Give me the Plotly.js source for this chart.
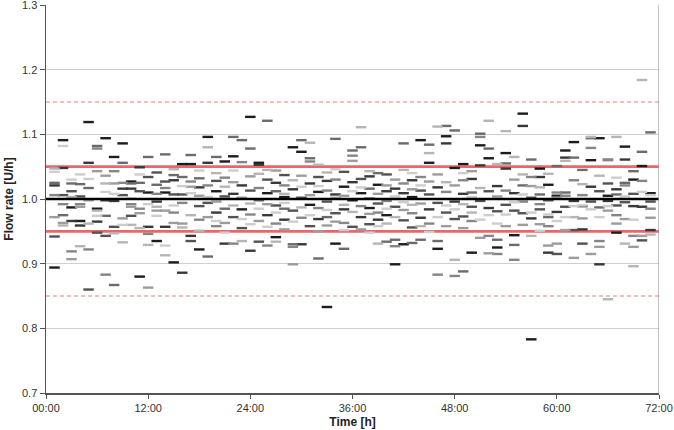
<!DOCTYPE html>
<html>
<head>
<meta charset="utf-8">
<script src="https://cdn.plot.ly/plotly-3.0.1.min.js"></script>
<style>html,body{margin:0;padding:0;background:#fff;}#chart{width:674px;height:430px;}</style>
</head>
<body>
<div id="chart"></div>
<script>
// Hours 1..71 (one dash per run per hour)
const hours = Array.from({length: 71}, (_, i) => i + 1);

// Eight runs, darkest to lightest shade (flow rate, U/h)
const runA = [0.894,1.091,0.987,0.966,1.119,0.985,1.094,1.065,1.086,1.027,0.880,1.010,0.935,1.010,0.902,1.054,1.054,0.922,1.096,1.012,1.058,1.066,0.984,1.127,1.056,1.009,0.941,1.003,1.080,1.073,0.991,1.011,0.833,0.931,1.019,0.998,1.009,0.986,1.022,0.975,0.899,0.930,1.003,1.091,1.056,0.923,1.097,1.048,1.054,0.917,1.083,1.063,0.925,1.071,0.944,1.132,0.783,1.047,1.022,1.005,1.075,1.088,0.989,1.060,1.094,1.005,0.948,1.081,1.030,1.051,1.009];
const runB = [1.021,1.048,0.966,0.959,1.056,0.965,0.998,0.997,1.016,1.016,1.049,0.957,0.996,0.957,1.029,0.886,0.943,1.018,1.056,0.979,0.931,1.008,1.021,0.920,1.053,0.975,1.025,0.968,1.015,0.930,1.024,0.969,1.028,1.007,0.984,1.026,0.972,1.035,0.968,1.012,1.016,1.009,1.029,0.971,0.984,1.018,1.086,0.996,1.008,1.031,1.052,0.986,1.020,1.047,1.009,1.113,0.970,1.034,0.917,0.980,1.064,0.997,0.953,1.019,0.899,0.997,1.015,1.061,0.989,0.988,0.952];
const runC = [0.942,1.006,1.012,1.004,0.860,0.948,0.943,0.957,1.006,0.974,1.012,1.034,1.041,1.027,1.007,1.007,0.935,0.989,0.994,1.028,1.004,0.972,0.955,1.013,0.934,1.030,0.990,1.037,0.982,1.002,0.958,1.034,0.996,0.978,1.042,0.957,1.031,0.961,0.993,1.038,0.988,0.967,0.956,1.013,1.007,0.994,0.979,0.969,0.973,0.988,0.997,1.012,0.981,0.991,0.982,0.978,1.002,0.984,0.998,0.915,0.988,0.952,0.931,0.996,1.012,1.024,0.990,0.995,1.008,0.936,0.996];
const runD = [1.025,0.975,1.024,1.023,1.017,1.082,0.974,0.867,1.056,1.024,1.025,1.065,1.022,1.069,1.037,1.034,1.068,1.032,0.911,1.065,0.985,1.096,1.091,1.078,0.998,1.121,1.012,0.985,0.930,1.091,1.063,0.908,0.972,1.093,0.923,1.075,1.080,1.016,1.040,0.934,0.937,1.086,0.932,0.937,1.084,0.935,1.113,1.106,0.888,1.010,1.101,1.078,0.937,1.055,0.929,1.021,1.061,1.007,0.972,1.051,1.010,1.064,1.045,1.094,0.987,1.061,1.007,1.025,1.043,1.073,1.103];
const runE = [1.006,0.992,0.919,0.992,0.922,1.078,0.883,1.043,1.025,0.992,0.985,0.946,1.008,1.017,0.979,0.994,1.027,0.968,1.021,0.958,1.033,0.931,1.057,0.976,1.017,0.928,0.962,1.021,0.926,0.971,1.058,0.986,1.013,1.030,0.963,1.067,0.989,1.001,0.979,0.997,0.927,1.024,0.978,1.034,0.962,0.883,1.011,0.881,1.029,0.966,1.096,0.943,0.915,1.013,0.906,0.996,1.034,0.992,0.958,1.010,1.005,1.029,1.006,1.079,0.935,1.060,0.975,1.021,0.943,1.028,0.985];
const runF = [0.972,0.963,0.907,0.988,0.998,1.043,1.036,1.024,0.970,0.988,0.978,0.863,0.982,0.982,0.963,0.962,1.019,1.005,0.972,0.996,0.963,1.026,1.002,1.035,0.966,0.992,1.044,0.953,0.899,1.036,1.006,0.950,0.959,0.965,1.005,1.059,0.953,0.977,1.008,1.021,1.030,0.983,1.015,0.993,1.027,1.038,0.958,1.021,0.955,1.043,0.940,0.916,1.004,0.958,1.030,0.960,1.020,0.961,0.928,0.931,0.952,0.909,0.970,0.915,0.926,0.982,0.962,0.969,0.926,0.943,0.971];
const runG = [1.047,0.959,1.003,0.927,0.962,0.982,1.024,0.947,0.933,0.960,0.955,0.929,0.988,0.913,1.046,0.956,0.975,0.951,1.080,1.040,1.019,0.990,0.935,0.993,1.039,1.045,0.934,1.008,1.029,0.987,1.087,1.053,1.041,1.002,0.991,0.980,1.111,1.043,0.931,0.962,0.972,1.045,0.991,0.958,1.071,1.112,1.026,0.906,0.992,0.979,1.017,1.121,1.054,1.105,1.065,1.038,0.943,1.018,1.039,1.002,1.059,0.972,1.023,1.096,1.036,0.845,1.096,0.931,0.896,1.184,0.945];
const runH = [1.042,1.082,1.030,1.038,1.031,0.974,1.011,1.008,0.960,1.001,1.038,0.992,0.974,0.928,0.990,1.020,1.009,1.044,1.003,0.966,0.948,1.044,0.969,0.961,0.985,0.957,0.979,0.994,0.965,1.019,0.975,1.020,0.983,1.046,0.952,1.012,1.018,0.948,0.958,0.985,1.004,0.995,1.040,1.021,0.949,0.972,0.990,0.984,1.040,1.003,0.968,0.975,0.962,0.976,0.995,1.007,0.979,0.951,0.976,0.966,0.972,0.989,0.990,0.984,0.972,0.989,1.033,1.004,0.968,1.011,1.006];

const runs = [runA, runB, runC, runD, runE, runF, runG, runH];
const shades = ['#1c1c1c','#383838','#525252','#6b6b6b','#858585','#9c9c9c','#b5b5b5','#cdcdcd'];

// Reference levels
const target = 1.0;
const innerLimits = [0.95, 1.05];
const outerLimits = [0.85, 1.15];
const xTickVals = [0, 12, 24, 36, 48, 60, 72];
const xTickText = ['00:00','12:00','24:00','36:00','48:00','60:00','72:00'];
const yTickVals = [0.7, 0.8, 0.9, 1.0, 1.1, 1.2, 1.3];
const yTickText = ['0.7','0.8','0.9','1.0','1.1','1.2','1.3'];

const traces = [];
innerLimits.forEach(v => traces.push({x:[0,72], y:[v,v], mode:'lines', line:{color:'#e8676a', width:2.6}, hoverinfo:'skip', showlegend:false}));
outerLimits.forEach(v => traces.push({x:[0,72], y:[v,v], mode:'lines', line:{color:'#f07a7a', width:1.1, dash:'4px,3px'}, hoverinfo:'skip', showlegend:false}));

runs.forEach((r, i) => traces.push({
  x: hours, y: r, mode: 'markers', type: 'scatter', showlegend: false,
  marker: {symbol: 'line-ew', size: 7.5, line: {color: shades[i], width: 2.4}}
}));

traces.push({x:[0,72], y:[target,target], mode:'lines', line:{color:'#000', width:2.6}, hoverinfo:'skip', showlegend:false});

const layout = {
  width: 674, height: 430,
  margin: {l: 46, r: 15, t: 5, b: 37},
  paper_bgcolor: '#fff', plot_bgcolor: '#fff',
  font: {family: 'Liberation Sans, Arial, sans-serif', size: 11, color: '#333'},
  showlegend: false,
  xaxis: {
    range: [0, 72], tickvals: xTickVals, ticktext: xTickText,
    showgrid: false, zeroline: false, ticklabeloverflow: 'allow',
    showline: true, linecolor: '#555', linewidth: 1.5,
    ticks: 'outside', ticklen: 4, tickcolor: '#555',
    title: {text: '<b>Time [h]</b>', font: {size: 12, color: '#222'}, standoff: 5}
  },
  yaxis: {
    range: [0.7, 1.3], tickvals: yTickVals, ticktext: yTickText,
    showgrid: true, gridcolor: '#cfcfcf', gridwidth: 1, zeroline: false, ticklabeloverflow: 'allow',
    showline: true, linecolor: '#555', linewidth: 1.5,
    ticks: 'outside', ticklen: 5, tickcolor: '#555',
    title: {text: '<b>Flow rate [U/h]</b>', font: {size: 12, color: '#222'}, standoff: 6}
  },
  shapes: [
    {type:'line', xref:'x', yref:'y', x0:72, x1:72, y0:0.7, y1:1.3, line:{color:'#999', width:1.2}}
  ]
};

Plotly.newPlot('chart', traces, layout, {displayModeBar: false, staticPlot: true});
</script>
</body>
</html>
